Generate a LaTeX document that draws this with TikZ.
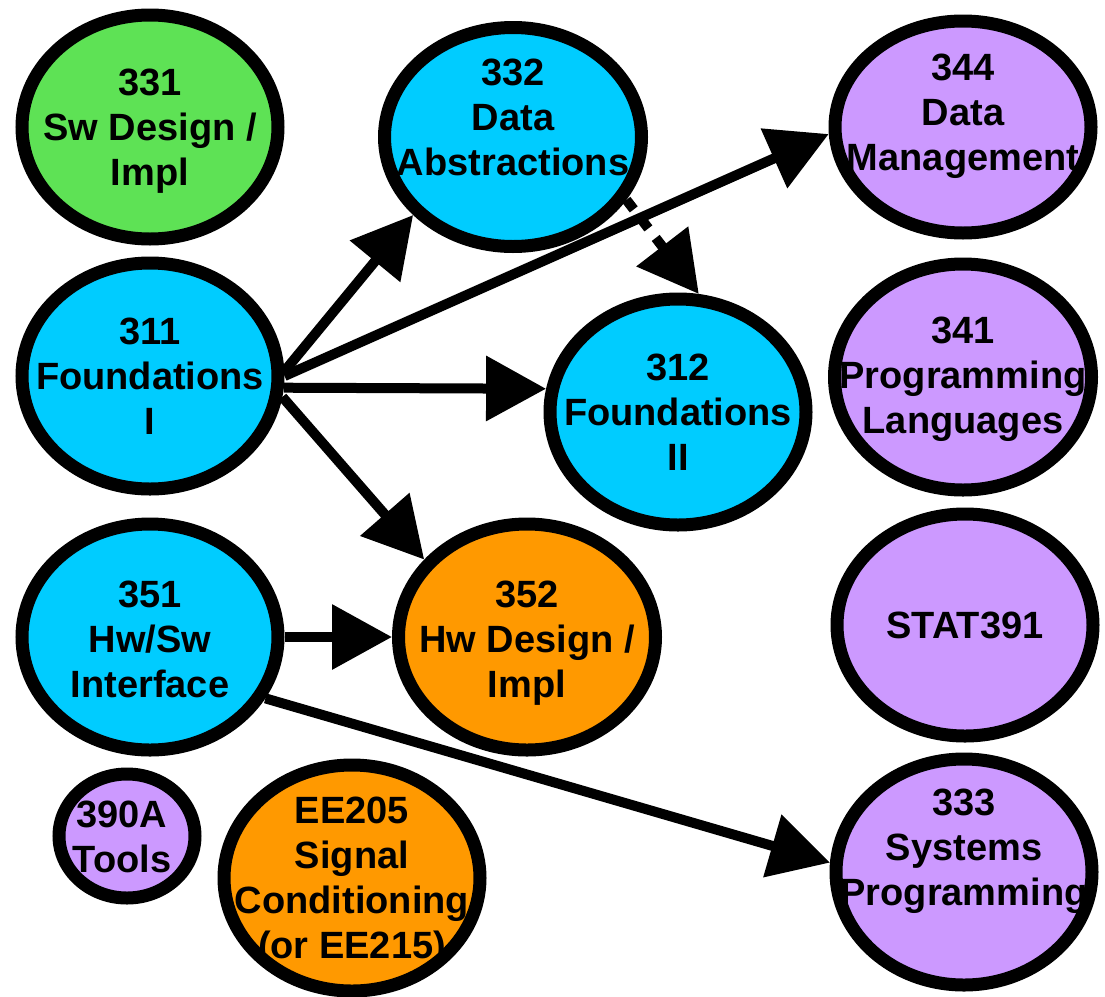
\documentclass[tikz,border=0pt]{standalone}
\usepackage{fontspec}
\setmainfont{Liberation Sans}
\usetikzlibrary{shapes.geometric,arrows.meta}
\definecolor{cgreen}{RGB}{94,226,85}
\definecolor{ccyan}{RGB}{0,204,255}
\definecolor{corange}{RGB}{255,153,0}
\definecolor{cpurple}{RGB}{204,153,255}
\newcommand\ls{\rule[-9.5pt]{0pt}{45pt}}
\begin{document}
\begin{tikzpicture}[x=1pt,y=-1pt,
  course/.style={ellipse, draw=black, line width=13pt, minimum width=256pt, minimum height=226pt, inner sep=0pt},
  smallcourse/.style={minimum width=136pt, minimum height=124pt},
  txt/.style={font=\fontsize{38}{45}\selectfont\bfseries, align=center, inner sep=0pt},
  link/.style={line width=10pt, -{Triangle[length=60pt,width=63pt]}},
  dashlink/.style={link, dash pattern=on 12pt off 12pt}
]
\useasboundingbox (0,0) rectangle (1105,996);

% ellipses
\node[course, fill=cgreen, minimum height=224pt] (n331) at (150,127) {};
\node[course, fill=ccyan, minimum width=257pt, minimum height=219pt] (n332) at (513,137) {};
\node[course, fill=cpurple, minimum height=212pt] (n344) at (963,127) {};
\node[course, fill=ccyan] (n311) at (150,376) {};
\node[course, fill=ccyan] (n312) at (678,412) {};
\node[course, fill=cpurple, minimum width=257pt] (n341) at (963,377) {};
\node[course, fill=ccyan] (n351) at (150,637) {};
\node[course, fill=corange, minimum width=257pt] (n352) at (527,637) {};
\node[course, fill=cpurple, minimum height=222pt] (nstat) at (965,625) {};
\node[course, fill=cpurple] (n333) at (964,872) {};
\node[course, smallcourse, fill=cpurple] (n390) at (127,836) {};
\node[course, fill=corange] (nee) at (352,878) {};

% texts
\node[txt] (t331) at (150,127) {\ls 331\\\ls Sw Design /\\\ls Impl};
\node[txt] (t332) at (513,117) {\ls 332\\\ls Data\\\ls Abstractions};
\node[txt] (t344) at (963,112) {\ls 344\\\ls Data\\\ls Management};
\node[txt] (t311) at (150,376) {\ls 311\\\ls Foundations\\\ls I};
\node[txt] (t312) at (678,412) {\ls 312\\\ls Foundations\\\ls II};
\node[txt] (t341) at (963,375) {\ls 341\\\ls Programming\\\ls Languages};
\node[txt] (t351) at (150,639) {\ls 351\\\ls Hw/Sw\\\ls Interface};
\node[txt] (t352) at (527,639) {\ls 352\\\ls Hw Design /\\\ls Impl};
\node[txt] (tstat) at (965,625) {\ls STAT391};
\node[txt] (t333) at (964,847) {\ls 333\\\ls Systems\\\ls Programming};
\node[txt] (t390) at (122,837) {\ls 390A\\\ls Tools};
\node[txt] (tee) at (352,878) {\ls EE205\\\ls Signal\\\ls Conditioning\\\ls (or EE215)};

% connectors
\draw[dashlink] (n332.-29) -- (n312.80);
\draw[link] (n311.2) -- (n332.218);
\draw[link] (n311.0) -- (n344.183);
\draw[link] (n311.-5) -- (n312.170);
\draw[link] (n311.-9) -- (n352.143);
\draw[link] (n351.east) -- (n352.west);
\draw[link] (n351.-28) -- (n333.176);
\end{tikzpicture}
\end{document}
